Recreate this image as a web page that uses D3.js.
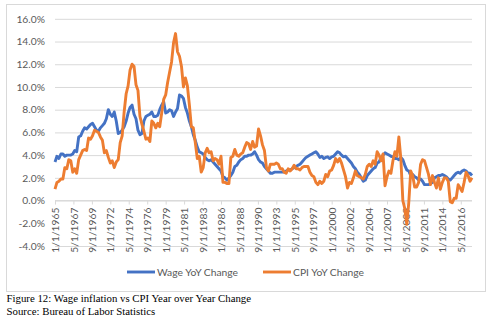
<!DOCTYPE html>
<html>
<head>
<meta charset="utf-8">
<script src="https://d3js.org/d3.v7.min.js"></script>
<style>
  body { margin: 0; background: #fff; }
  svg { display: block; }
</style>
</head>
<body>
<div id="chart"></div>
<script>
// quarterly values (Jan, Apr, Jul, Oct), 1965 to 2017
const wageYoY = [
  3.4, 3.9, 3.7, 4.1,   4.1, 3.9, 4.0, 4.0,   4.0, 4.1, 4.4, 4.3,   5.6, 5.7, 6.1, 6.4,
  6.3, 6.5, 6.7, 6.8,   6.5, 6.2, 6.1, 6.4,   6.6, 6.8, 7.2, 8.0,   7.6, 7.4, 7.8, 7.0,
  5.9, 6.0, 6.2, 6.5,   7.0, 7.7, 8.2, 8.4,   7.6, 7.2, 6.2, 5.8,   5.9, 7.0, 7.4, 7.5,
  7.6, 7.8, 7.4, 7.4,   7.5, 8.0, 8.4, 8.7,   7.7, 7.8, 8.0, 7.9,   7.4, 7.8, 8.1, 9.3,
  9.2, 9.0, 8.2, 7.7,   7.0, 6.5, 5.8, 5.3,   4.7, 4.3, 4.2, 4.1,   3.8, 3.6, 3.5, 3.6,
  3.4, 3.2, 3.0, 2.8,   2.6, 2.1, 2.0, 1.8,   2.0, 2.2, 2.5, 3.0,   3.1, 3.4, 3.6, 3.7,
  3.9, 3.9, 4.0, 4.0,   4.1, 4.3, 4.0, 3.6,   3.4, 3.3, 3.0, 2.8,   2.6, 2.4, 2.4, 2.5,
  2.5, 2.5, 2.5, 2.5,   2.5, 2.6, 2.7, 2.7,   2.8, 2.9, 3.0, 3.1,   3.2, 3.4, 3.6, 3.8,
  3.9, 4.0, 4.1, 4.2,   4.3, 4.1, 3.8, 3.9,   3.7, 3.8, 3.85, 3.7,  3.85, 3.9, 4.1, 4.3,
  4.2, 4.0, 3.85, 3.9,  3.7, 3.5, 3.3, 3.0,   2.8, 2.5, 2.3, 2.0,   1.7, 1.8, 2.2, 2.4,
  2.6, 2.8, 2.9, 3.3,   3.4, 3.8, 4.0, 4.2,   4.1, 4.0, 3.9, 3.85,  3.7, 3.7, 3.6, 3.8,
  3.6, 3.1, 2.7, 2.6,   2.2, 2.3, 2.1, 2.0,   1.8, 1.9, 1.7, 1.4,   1.4, 1.4, 1.5, 1.6,
  2.0, 2.1, 2.2, 2.2,   2.3, 2.2, 2.1, 1.9,   1.8, 2.0, 2.2, 2.4,   2.5, 2.4, 2.6, 2.7,
  2.6, 2.4, 2.4, 2.2
];

const cpiYoY = [
  1.0, 1.6, 1.7, 1.9,   1.9, 2.9, 2.8, 3.6,   3.5, 2.5, 2.8, 2.4,   3.6, 4.0, 4.4, 4.5,
  4.4, 5.5, 5.4, 5.7,   6.2, 6.1, 6.0, 5.6,   5.3, 4.2, 4.4, 3.8,   3.3, 3.5, 2.9, 3.4,
  3.6, 5.1, 5.7, 7.8,   9.4, 10.1, 11.5, 12.0, 11.8, 10.2, 9.7, 7.4, 6.7, 6.1, 5.4, 5.5,
  5.2, 7.0, 6.8, 6.4,   6.8, 6.5, 7.7, 8.9,   9.3, 10.4, 11.3, 12.2, 13.9, 14.7, 13.1, 12.7,
  11.8, 10.0, 10.8, 10.1, 8.4, 6.5, 6.4, 5.1, 3.7, 3.9, 2.5, 2.9,   4.2, 4.6, 4.2, 4.3,
  3.5, 3.7, 3.6, 3.2,   3.9, 1.6, 1.6, 1.5,   1.5, 3.8, 3.9, 4.5,   4.0, 3.9, 4.1, 4.2,
  4.7, 5.1, 5.0, 4.5,   5.2, 4.7, 4.8, 6.3,   5.7, 4.9, 4.4, 2.9,   2.6, 3.2, 3.2, 3.2,
  3.3, 3.2, 2.8, 2.8,   2.5, 2.4, 2.8, 2.6,   2.8, 3.1, 2.8, 2.8,   2.7, 2.9, 3.0, 3.0,
  3.0, 2.5, 2.2, 2.1,   1.6, 1.4, 1.7, 1.5,   1.7, 2.3, 2.1, 2.6,   2.7, 3.1, 3.7, 3.4,
  3.7, 3.3, 2.7, 2.1,   1.1, 1.6, 1.5, 2.0,   2.6, 2.2, 2.1, 2.0,   1.9, 2.3, 3.0, 3.2,
  3.0, 3.5, 3.2, 4.3,   4.0, 3.5, 4.1, 1.3,   2.1, 2.6, 2.4, 3.5,   4.3, 3.9, 5.6, 3.7,
  0.0, -0.7, -2.1, -0.2, 2.6, 2.2, 1.2, 1.2,  1.6, 3.2, 3.6, 3.5,   2.9, 2.3, 1.4, 2.2,
  1.6, 1.1, 2.0, 1.0,   1.6, 2.0, 2.0, 1.7,   -0.1, -0.2, 0.2, 0.2, 1.4, 1.1, 0.8, 1.6,
  2.5, 2.2, 1.7, 2.0
];

const tickLabels = [
  '1/1/1965', '5/1/1967', '9/1/1969', '1/1/1972', '5/1/1974', '9/1/1976',
  '1/1/1979', '5/1/1981', '9/1/1983', '1/1/1986', '5/1/1988', '9/1/1990',
  '1/1/1993', '5/1/1995', '9/1/1997', '1/1/2000', '5/1/2002', '9/1/2004',
  '1/1/2007', '5/1/2009', '9/1/2011', '1/1/2014', '5/1/2016'
];
const yTicks = [-4, -2, 0, 2, 4, 6, 8, 10, 12, 14, 16];

const seriesNames = ['Wage YoY Change', 'CPI YoY Change'];
const seriesColors = ['#4472C4', '#ED7D31'];

const width = 493, height = 322;
const svg = d3.select('#chart').append('svg')
  .attr('width', width)
  .attr('height', height);

// chart frame
svg.append('rect')
  .attr('x', 6.5).attr('y', 4.5)
  .attr('width', 479).attr('height', 287)
  .attr('fill', '#fff')
  .attr('stroke', '#d9d9d9');

const parseDate = d3.timeParse('%m/%d/%Y');
const quarterDate = i => new Date(1965, i * 3, 1);

const x = d3.scaleTime()
  .domain([new Date(1965, 0, 1), new Date(2017, 9, 1)])
  .range([55, 472]);
const y = d3.scaleLinear().domain([-4, 16]).range([246, 18.8]);

// gridlines + y labels
const yAxis = svg.append('g')
  .attr('transform', 'translate(55,0)')
  .call(d3.axisLeft(y).tickValues(yTicks).tickSize(-417).tickPadding(10)
    .tickFormat(d => d.toFixed(1) + '%'));
yAxis.select('.domain').remove();
yAxis.selectAll('line').attr('stroke', '#d9d9d9');
// the -2% gridline sits behind the date labels and is not seen
yAxis.selectAll('.tick').filter(d => d === -2).select('line').remove();
yAxis.selectAll('text')
  .attr('fill', '#595959')
  .style('font-family', 'Lato, "Open Sans", sans-serif')
  .style('font-size', '10.3px');

// x axis at 0%
const xAxis = svg.append('g')
  .attr('transform', `translate(0,${y(0)})`)
  .call(d3.axisBottom(x).tickValues(tickLabels.map(parseDate)).tickSize(4).tickPadding(6)
    .tickFormat(d3.timeFormat('%-m/%-d/%Y')));
xAxis.select('.domain').attr('stroke', '#d9d9d9').attr('d', 'M55,0H472');
xAxis.selectAll('line').attr('stroke', '#d9d9d9');
xAxis.selectAll('text')
  .attr('fill', '#595959')
  .attr('transform', 'rotate(-90)')
  .attr('text-anchor', 'end')
  .attr('x', -7)
  .attr('y', 0)
  .attr('dy', '0.35em')
  .style('font-family', 'Lato, "Open Sans", sans-serif')
  .style('font-size', '10.3px');

// lines
const line = d3.line()
  .x((d, i) => x(quarterDate(i)))
  .y(d => y(d));

[wageYoY, cpiYoY].forEach((vals, k) => {
  svg.append('path')
    .datum(vals)
    .attr('fill', 'none')
    .attr('stroke', seriesColors[k])
    .attr('stroke-width', 2.9)
    .attr('stroke-linejoin', 'round')
    .attr('d', line);
});

// legend
const legendX = [127, 263];
const legend = svg.selectAll('.legend')
  .data(seriesNames)
  .enter()
  .append('g')
  .attr('transform', (d, i) => `translate(${legendX[i]}, 272)`);
legend.append('line')
  .attr('x1', 0).attr('x2', 28)
  .attr('stroke', (d, i) => seriesColors[i])
  .attr('stroke-width', 2.9);
legend.append('text')
  .attr('x', 30).attr('dy', '0.35em')
  .attr('fill', '#595959')
  .style('font-family', 'Lato, "Open Sans", sans-serif')
  .style('font-size', '10.3px')
  .text(d => d);

// caption
const caption = ['Figure 12: Wage inflation vs CPI Year over Year Change', 'Source: Bureau of Labor Statistics'];
svg.selectAll('.caption')
  .data(caption)
  .enter()
  .append('text')
  .attr('x', 6.5)
  .attr('y', (d, i) => 302 + i * 13)
  .attr('fill', '#000')
  .style('font-family', '"Liberation Serif", "Times New Roman", serif')
  .style('font-size', '10.8px')
  .text(d => d);
</script>
</body>
</html>
